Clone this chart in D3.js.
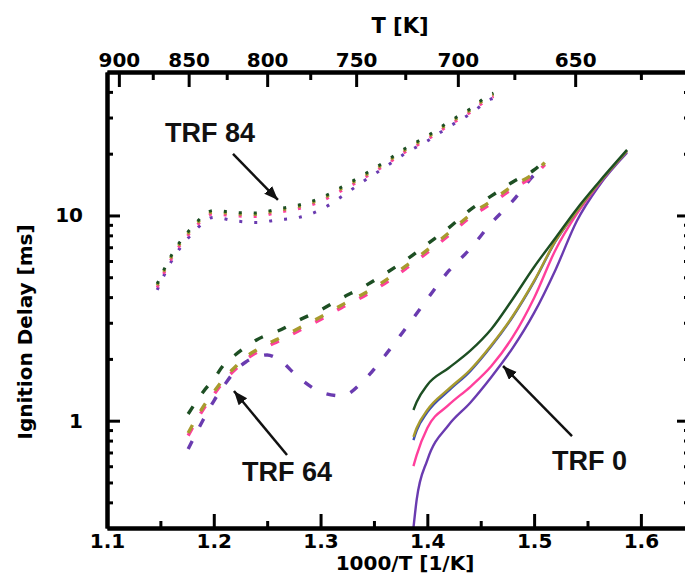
<!DOCTYPE html>
<html><head><meta charset="utf-8">
<script src="https://cdn.jsdelivr.net/npm/d3@7"></script>
<style>body{margin:0;background:#fff}</style>
</head><body>
<svg id="c" width="685" height="577"></svg>
<script>
// ---------- data ----------
const colorNames = ["purple", "pink", "blue", "olive", "green"];
const colorValues = ["#6a3bb0", "#ff3f9c", "#3b4db5", "#a89b2e", "#1d4f23"];

// TRF 0 (solid)
const trf0X      = [1.387, 1.39, 1.40, 1.42, 1.44, 1.46, 1.48, 1.50, 1.52, 1.54, 1.56, 1.587];
const trf0Green  = [1.127, 1.233, 1.493, 1.806, 2.187, 2.798, 3.918, 5.61, 7.77, 10.76, 14.40, 20.86];
const trf0Olive  = [0.833, 0.921, 1.127, 1.427, 1.766, 2.338, 3.237, 4.796, 7.51, 10.52, 14.24, 20.62];
const trf0Blue   = [0.805, 0.895, 1.10, 1.40, 1.74, 2.31, 3.21, 4.76, 7.47, 10.50, 14.20, 20.60];
const trf0Pink   = [0.601, 0.68, 0.921, 1.193, 1.459, 1.847, 2.558, 3.963, 6.79, 10.17, 14.08, 20.60];
const trf0Purple = [0.30, 0.411, 0.643, 0.953, 1.22, 1.633, 2.262, 3.35, 5.43, 9.40, 13.77, 20.20];

// TRF 64 (dashed)
const trf64X      = [1.176, 1.19, 1.20, 1.21, 1.22, 1.23, 1.24, 1.25, 1.26, 1.28, 1.30, 1.32, 1.34, 1.36, 1.38, 1.40, 1.42, 1.44, 1.46, 1.48, 1.50, 1.51];
const trf64Green  = [1.078, 1.380, 1.597, 1.889, 2.090, 2.287, 2.474, 2.617, 2.736, 3.095, 3.463, 3.963, 4.483, 5.187, 6.069, 7.262, 8.693, 10.64, 12.45, 14.56, 16.66, 18.5];
const trf64Olive  = [0.871, 1.166, 1.380, 1.615, 1.827, 2.044, 2.211, 2.365, 2.501, 2.830, 3.202, 3.664, 4.146, 4.796, 5.675, 6.79, 8.22, 10.06, 11.77, 13.93, 16.11, 18.1];
const trf64Pink   = [0.846, 1.133, 1.341, 1.570, 1.776, 1.987, 2.149, 2.299, 2.431, 2.751, 3.112, 3.561, 4.030, 4.662, 5.516, 6.60, 7.99, 9.78, 11.44, 13.54, 15.66, 17.7];
const trf64Purple = [0.727, 1.008, 1.247, 1.493, 1.747, 1.932, 2.044, 2.090, 1.999, 1.615, 1.380, 1.32, 1.561, 2.067, 2.830, 3.918, 5.364, 6.866, 9.194, 11.77, 15.75, 17.5];

// TRF 84 (dotted)
const trf84X      = [1.147, 1.16, 1.18, 1.20, 1.22, 1.24, 1.26, 1.28, 1.30, 1.32, 1.34, 1.36, 1.38, 1.40, 1.42, 1.44, 1.46, 1.462];
const trf84Green  = [4.64, 6.35, 8.79, 10.58, 10.34, 10.28, 10.76, 11.25, 12.17, 13.77, 15.75, 18.23, 21.33, 24.41, 28.56, 33.04, 39.09, 39.5];
const trf84Olive  = [4.56, 6.24, 8.64, 10.40, 10.16, 10.11, 10.58, 11.06, 11.96, 13.54, 15.48, 17.92, 20.97, 24.0, 28.07, 32.48, 38.43, 38.8];
const trf84Pink   = [4.46, 6.11, 8.46, 10.18, 9.95, 9.89, 10.35, 10.82, 11.71, 13.25, 15.15, 17.54, 20.52, 23.48, 27.47, 31.78, 37.60, 38.0];
const trf84Purple = [4.34, 5.94, 8.17, 9.79, 9.41, 9.25, 9.52, 9.79, 10.65, 12.39, 14.65, 17.14, 20.16, 23.07, 26.99, 31.22, 36.94, 37.3];

// axes ticks
const xMajorTicks = [1.1, 1.2, 1.3, 1.4, 1.5, 1.6];
const xMinorTicks = [1.15, 1.25, 1.35, 1.45, 1.55];
const tMajorTicks = [900, 850, 800, 750, 700, 650];
const tMinorTicks = [875, 825, 775, 725, 675, 625];
const yMajorTicks = [1, 10];
const yMinorTicks = [0.4, 0.5, 0.6, 0.7, 0.8, 0.9, 2, 3, 4, 5, 6, 7, 8, 9, 20, 30, 40];

// annotations (data coordinates)
const annLabels = ["TRF 84", "TRF 64", "TRF 0"];
const annTextX  = [1.1543, 1.2264, 1.5167];
const annTextY  = [22.8, 0.508, 0.575];
const annTailX  = [1.2180, 1.2686, 1.5355];
const annTailY  = [19.94, 0.6806, 0.842];
const annTipX   = [1.2601, 1.2189, 1.4709];
const annTipY   = [11.90, 1.395, 1.847];

// ---------- chart ----------
const svg = d3.select("#c");
const L = 107, R = 690, T = 72, B = 528;
const x = d3.scaleLinear().domain([1.1, 1.646]).range([L, R]);
const y = d3.scaleLog().domain([0.3, 50]).range([B, T]);
const color = d3.scaleOrdinal().domain(colorNames).range(colorValues);

svg.append("defs").append("clipPath").attr("id", "clip")
  .append("rect").attr("x", L).attr("y", T).attr("width", R - L).attr("height", B - T);
const marker = svg.select("defs").append("marker")
  .attr("id", "arrow").attr("markerUnits", "userSpaceOnUse")
  .attr("markerWidth", 15).attr("markerHeight", 12)
  .attr("refX", 14).attr("refY", 5.5).attr("orient", "auto");
marker.append("path").attr("d", "M0,0 L14,5.5 L0,11 Z").attr("fill", "#111");

const groups = [
  {xs: trf84X, dash: "3,12", width: 3, series: [["purple", trf84Purple], ["pink", trf84Pink], ["olive", trf84Olive], ["green", trf84Green]]},
  {xs: trf64X, dash: "9,16", width: 3.4, series: [["purple", trf64Purple], ["pink", trf64Pink], ["olive", trf64Olive], ["green", trf64Green]]},
  {xs: trf0X, dash: null, width: 2.4, series: [["purple", trf0Purple], ["pink", trf0Pink], ["blue", trf0Blue], ["olive", trf0Olive], ["green", trf0Green]]}
];

const plot = svg.append("g").attr("clip-path", "url(#clip)");
groups.forEach(g => {
  const line = d3.line().x((d, i) => x(g.xs[i])).y(d => y(d)).curve(d3.curveMonotoneX);
  g.series.forEach(([name, vals]) => {
    plot.append("path").attr("d", line(vals))
      .attr("fill", "none").attr("stroke", color(name))
      .attr("stroke-width", g.width)
      .attr("stroke-dasharray", g.dash);
  });
});

// axes
const font = "DejaVu Sans, Verdana, sans-serif";
function styleAxis(sel, lw) {
  sel.select(".domain").attr("stroke", "#000").attr("stroke-width", lw);
  sel.selectAll(".tick line").attr("stroke", "#000").attr("stroke-width", 3);
  sel.selectAll("text").attr("font-family", font).attr("font-weight", "bold")
    .attr("font-size", 20).attr("fill", "#000");
}
// bottom
svg.append("g").attr("transform", `translate(0,${B})`)
  .call(d3.axisBottom(x).tickValues(xMinorTicks).tickSizeInner(-7).tickSizeOuter(0).tickFormat(""))
  .call(s => styleAxis(s, 4));
svg.append("g").attr("transform", `translate(0,${B})`)
  .call(d3.axisBottom(x).tickValues(xMajorTicks).tickSizeInner(-14).tickSizeOuter(0).tickPadding(6).tickFormat(d3.format(".1f")))
  .call(s => styleAxis(s, 4));
// top (temperature)
svg.append("g").attr("transform", `translate(0,${T})`)
  .call(d3.axisTop(x).tickValues(tMinorTicks.map(t => 1000 / t)).tickSizeInner(-8).tickSizeOuter(0).tickFormat(""))
  .call(s => styleAxis(s, 4));
svg.append("g").attr("transform", `translate(0,${T})`)
  .call(d3.axisTop(x).tickValues(tMajorTicks.map(t => 1000 / t)).tickSizeInner(-15).tickSizeOuter(0).tickPadding(5)
    .tickFormat(d => Math.round(1000 / d)))
  .call(s => styleAxis(s, 4));
// left
svg.append("g").attr("transform", `translate(${L},0)`)
  .call(d3.axisLeft(y).tickValues(yMinorTicks).tickSizeInner(-6).tickSizeOuter(0).tickFormat(""))
  .call(s => styleAxis(s, 4));
svg.append("g").attr("transform", `translate(${L},0)`)
  .call(d3.axisLeft(y).tickValues(yMajorTicks).tickSizeInner(-13).tickSizeOuter(0).tickPadding(24).tickFormat(d3.format("d")))
  .call(s => styleAxis(s, 4));
// right
svg.append("g").attr("transform", `translate(${R},0)`)
  .call(d3.axisRight(y).tickValues(yMinorTicks).tickSizeInner(-6).tickSizeOuter(0).tickFormat(""))
  .call(s => styleAxis(s, 4));
svg.append("g").attr("transform", `translate(${R},0)`)
  .call(d3.axisRight(y).tickValues(yMajorTicks).tickSizeInner(-13).tickSizeOuter(0).tickFormat(""))
  .call(s => styleAxis(s, 4));

// axis titles
svg.append("text").attr("x", 400).attr("y", 33).attr("text-anchor", "middle")
  .attr("font-family", font).attr("font-weight", "bold").attr("font-size", 21).text("T [K]");
svg.append("text").attr("x", 405).attr("y", 570).attr("text-anchor", "middle")
  .attr("font-family", font).attr("font-weight", "bold").attr("font-size", 20).text("1000/T [1/K]");
svg.append("text").attr("transform", "translate(32,332) rotate(-90)").attr("text-anchor", "middle")
  .attr("font-family", font).attr("font-weight", "bold").attr("font-size", 20).text("Ignition Delay [ms]");

// annotations
annLabels.forEach((lab, i) => {
  svg.append("line")
    .attr("x1", x(annTailX[i])).attr("y1", y(annTailY[i]))
    .attr("x2", x(annTipX[i])).attr("y2", y(annTipY[i]))
    .attr("stroke", "#111").attr("stroke-width", 2.5).attr("marker-end", "url(#arrow)");
  svg.append("text").attr("x", x(annTextX[i])).attr("y", y(annTextY[i]))
    .attr("font-family", "Liberation Sans, Arial, sans-serif").attr("font-weight", "bold")
    .attr("font-size", 27).attr("fill", "#111").text(lab);
});
</script>
</body></html>
